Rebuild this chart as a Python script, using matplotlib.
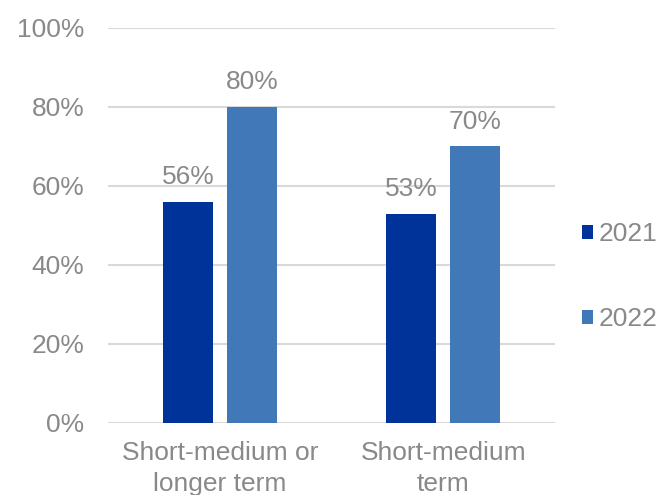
import matplotlib.pyplot as plt
import numpy as np

plt.rcParams['font.family'] = ['Liberation Sans', 'DejaVu Sans']

categories = ['Short-medium or\nlonger term', 'Short-medium\nterm']
years = ['2021', '2022']
values_2021 = [56, 53]
values_2022 = [80, 70]
y_ticks = [0, 20, 40, 60, 80, 100]

TEXT_GREY = '#898989'
GRID_GREY = '#d9d9d9'
FS = 19
colors = ['#003399', '#4178b8']

fig = plt.figure(figsize=(6.64, 4.95), dpi=100)
ax = fig.add_axes([0.1627, 0.1455, 0.6733, 0.798])

x = np.arange(len(categories))
width = 0.224
offset = 0.143
for vals, off, col, yr in zip([values_2021, values_2022], [-offset, offset], colors, years):
    bars = ax.bar(x + off, vals, width, color=col, label=yr, zorder=3)
    for b, v in zip(bars, vals):
        ax.annotate(f'{v}%', (b.get_x() + b.get_width() / 2, v),
                    xytext=(0, 9), textcoords='offset points',
                    ha='center', va='bottom', fontsize=FS, color=TEXT_GREY)

ax.set_xlim(-0.5, 1.5)
ax.set_ylim(0, 100)
ax.set_yticks(y_ticks)
ax.set_yticklabels([f'{t}%' for t in y_ticks])
ax.set_xticks(x)
ax.set_xticklabels(categories, linespacing=1.38)
ax.grid(axis='y', color=GRID_GREY, linewidth=1.5, zorder=0)
for s in ax.spines.values():
    s.set_visible(False)
ax.tick_params(length=0, labelsize=FS, labelcolor=TEXT_GREY)
ax.tick_params(axis='y', pad=17)
ax.tick_params(axis='x', pad=13)

leg = ax.legend(loc='center left', bbox_to_anchor=(1.006, 0.37), frameon=False,
                fontsize=FS, handlelength=0.45, handleheight=0.45,
                handletextpad=0.2, labelspacing=2.3)
for t in leg.get_texts():
    t.set_color(TEXT_GREY)

fig.savefig('out.png', dpi=100)
